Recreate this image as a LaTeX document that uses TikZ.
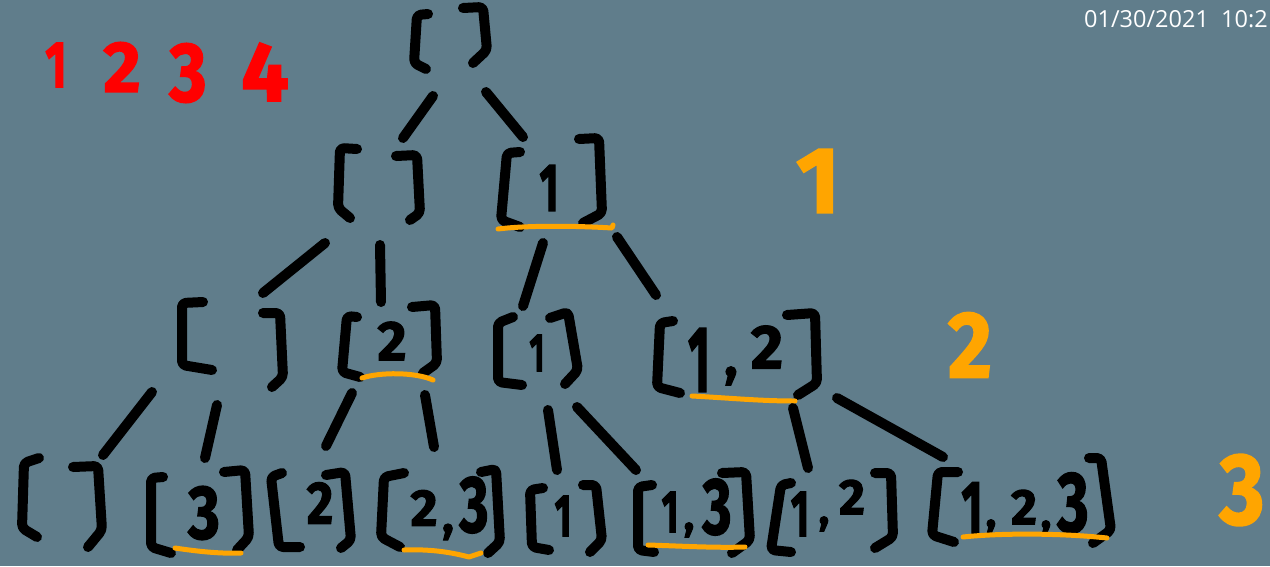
\documentclass[tikz,border=0pt]{standalone}
\usepackage{fontspec}
\setmainfont{Fira Sans}[BoldFeatures={FakeBold=2}]
\newfontfamily\tsfont{Open Sans}
\definecolor{bg}{HTML}{607D8B}
\definecolor{hl}{HTML}{FFA500}
\definecolor{rd}{HTML}{FF0000}
\newcommand\nar[2][0.75]{\scalebox{#1}[1]{#2}}
\tikzset{
  ink/.style={line width=10pt, line cap=round, line join=round, rounded corners=4pt, black},
  link/.style={line width=10pt, line cap=round, black},
  uline/.style={line width=5pt, line cap=round, line join=round, hl},
  dig/.style={inner sep=0pt, text=black, font=\bfseries\fontsize{#1}{#1}\selectfont},
  lvl/.style={inner sep=0pt, text=hl, font=\bfseries\fontsize{#1}{#1}\selectfont},
  red/.style={inner sep=0pt, text=rd, font=\bfseries\fontsize{#1}{#1}\selectfont},
}
\begin{document}
\begin{tikzpicture}[x=1pt,y=-1pt]
\fill[bg] (0,0) rectangle (1270,566);
\useasboundingbox (0,0) rectangle (1270,566);

% timestamp
\node[anchor=base west, inner sep=0pt, text=white, font=\tsfont\fontsize{23.5}{23.5}\selectfont] (ts) at (1084,27) {01/30/2021\ \ 10:2};

% red digits
\node[red=66] (r1) at (56,65) {\nar[0.7]{1}};
\node[red=72] (r2) at (122,67) {2};
\node[red=84] (r3) at (188,73) {\nar[0.85]{3}};
\node[red=84] (r4) at (265,72) {4};

% level labels
\node[lvl=94] (lv1) at (818,181) {1};
\node[lvl=94] (lv2) at (970,345) {\nar[0.9]{2}};
\node[lvl=101] (lv3) at (1242,490) {\nar[0.85]{3}};

% ---------- root [ ]
\draw[ink] (428,14) -- (417,15) -- (414,63) -- (426,69);
\draw[ink] (463,8) -- (483,7) -- (487,50) -- (473,63);

% ---------- level 1
\draw[ink] (357,149) -- (340,148) -- (338,208) -- (350,218);
\draw[ink] (396,156) -- (417,155) -- (420,213) -- (410,220);

\draw[ink] (520,152) -- (507,153) -- (501,220) -- (520,227);
\draw[ink] (579,139) -- (599,138) -- (602,213) -- (583,223);
\node[dig=68] (a1) at (549,188) {\nar[0.6]{1}};
\draw[uline] (498,229) .. controls (530,225) and (580,226) .. (612,228) -- (613,225);

% ---------- level 2
\draw[ink] (203,302) -- (182,303) -- (182,365) -- (212,370);
\draw[ink] (263,313) -- (280,313) -- (283,377) -- (272,387);

\draw[ink] (357,317) -- (347,316) -- (342,372) -- (360,377);
\draw[ink] (412,307) -- (435,305) -- (437,363) -- (423,373);
\node[dig=56] (b2) at (392,341) {2};
\draw[uline] (362,378) .. controls (380,372) and (415,372) .. (433,380);

\draw[ink] (513,317) -- (498,323) -- (498,382) -- (522,385);
\draw[ink] (550,318) -- (568,312) -- (578,370) -- (565,384);
\node[dig=54] (b1) at (537,353) {\nar[0.6]{1}};

\draw[ink] (673,321) -- (660,323) -- (657,387) -- (680,393);
\draw[ink] (787,315) -- (815,313) -- (817,383) -- (798,395);
\node[dig=94] (b121) at (699,360) {\nar[0.5]{1}};
\node[dig=55] (b12c) at (731,376) {,};
\node[dig=62] (b122) at (767,347) {2};
\draw[uline] (692,396) .. controls (730,398) and (760,401) .. (795,401);

% ---------- level 3
\draw[ink] (39,458) -- (24,463) -- (22,528) -- (37,537);
\draw[ink] (73,467) -- (98,466) -- (102,530) -- (88,547);

\draw[ink] (163,477) -- (151,478) -- (151,547) -- (171,553);
\draw[ink] (224,472) -- (245,470) -- (249,537) -- (237,550);
\node[dig=76] (c3) at (204,513) {\nar[0.8]{3}};
\draw[uline] (175,548) .. controls (195,551) and (220,554) .. (241,553);

\draw[ink] (282,473) -- (271,477) -- (279,547) -- (300,547);
\draw[ink] (326,475) -- (345,472) -- (351,540) -- (341,548);
\node[dig=60] (c2) at (320,503) {\nar[0.85]{2}};

\draw[ink] (404,473) -- (384,477) -- (381,537) -- (400,547);
\draw[ink] (481,472) -- (496,469) -- (500,542) -- (488,553);
\node[dig=52] (c232) at (424,508) {2};
\node[dig=48] (c23c) at (448,532) {,};
\node[dig=80] (c233) at (474,505) {\nar[0.7]{3}};
\draw[uline] (404,550) .. controls (430,549) and (450,552) .. (469,557) -- (481,553);

\draw[ink] (543,488) -- (530,490) -- (532,547) -- (549,550);
\draw[ink] (583,485) -- (596,485) -- (602,540) -- (590,552);
\node[dig=60] (c1) at (563,516) {\nar[0.6]{1}};

\draw[ink] (652,485) -- (638,487) -- (638,550) -- (654,552);
\draw[ink] (722,473) -- (746,472) -- (750,540) -- (732,553);
\node[dig=60] (c131) at (670,512) {\nar[0.6]{1}};
\node[dig=44] (c13c) at (689,530) {,};
\node[dig=80] (c133) at (717,507) {\nar[0.7]{3}};
\draw[uline] (648,545) .. controls (680,546) and (715,548) .. (745,547);

\draw[ink] (791,483) -- (781,485) -- (771,550) -- (791,552);
\draw[ink] (875,473) -- (891,473) -- (893,537) -- (875,548);
\node[dig=66] (c121) at (800,514) {\nar[0.6]{1}};
\node[dig=44] (c12c) at (824,524) {,};
\node[dig=50] (c122) at (852,497) {2};

\draw[ink] (958,472) -- (938,472) -- (932,535) -- (954,542);
\draw[ink] (1089,458) -- (1101,458) -- (1111,530) -- (1093,543);
\node[dig=76] (c1231) at (972,508) {\nar[0.6]{1}};
\node[dig=44] (c123c) at (991,527) {,};
\node[dig=50] (c1232) at (1024,507) {2};
\node[dig=44] (c123d) at (1046,528) {,};
\node[dig=86] (c1233) at (1073,503) {\nar[0.7]{3}};
\draw[uline] (963,537) .. controls (1000,533) and (1060,533) .. (1107,538);

% ---------- connectors
\coordinate (e1a) at (433,96);  \coordinate (e1b) at (403,138);
\coordinate (e2a) at (486,92);  \coordinate (e2b) at (523,137);
\coordinate (e3a) at (325,243); \coordinate (e3b) at (263,293);
\coordinate (e4a) at (380,245); \coordinate (e4b) at (381,302);
\coordinate (e5a) at (543,243); \coordinate (e5b) at (523,306);
\coordinate (e6a) at (617,237); \coordinate (e6b) at (656,295);
\coordinate (e7a) at (152,392); \coordinate (e7b) at (103,455);
\coordinate (e8a) at (217,405); \coordinate (e8b) at (205,458);
\coordinate (e9a) at (352,393); \coordinate (e9b) at (326,446);
\coordinate (e10a) at (425,395); \coordinate (e10b) at (434,447);
\coordinate (e11a) at (548,410); \coordinate (e11b) at (557,470);
\coordinate (e12a) at (577,407); \coordinate (e12b) at (636,470);
\coordinate (e13a) at (793,408); \coordinate (e13b) at (808,468);
\coordinate (e14a) at (837,398); \coordinate (e14b) at (943,457);
\foreach \i in {1,...,14} {\draw[link] (e\i a) -- (e\i b);}
\end{tikzpicture}
\end{document}
